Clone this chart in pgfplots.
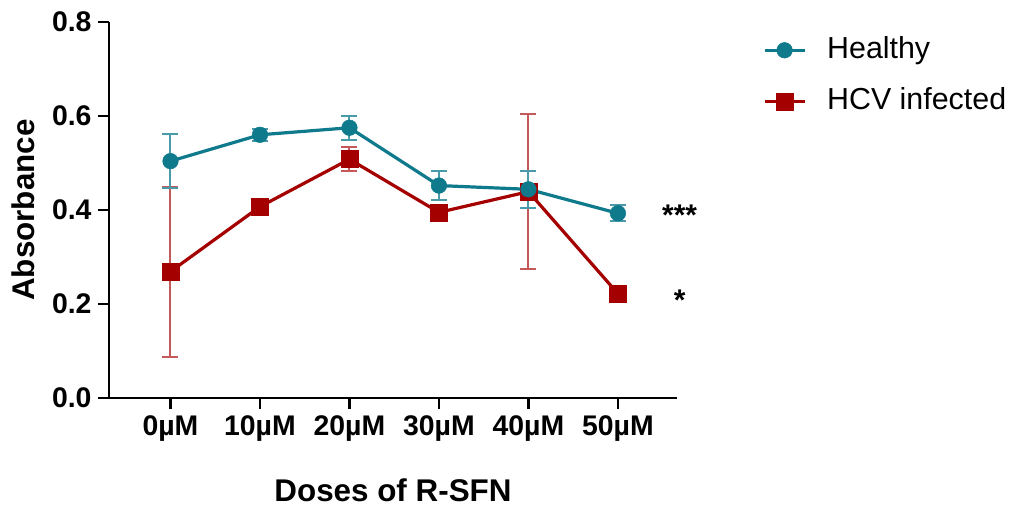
\documentclass[border=0pt]{standalone}
\usepackage{fontspec}
\setmainfont{Liberation Sans}
\usepackage{pgfplots}
\usepackage{pgfplotstable}
\pgfplotsset{compat=1.18}
\definecolor{tealc}{RGB}{14,122,140}
\definecolor{redc}{RGB}{165,0,0}
\pgfplotstableread{
x y e
0 0.504 0.058
1 0.560 0.013
2 0.575 0.025
3 0.452 0.030
4 0.444 0.040
5 0.393 0.017
}\healthy
\pgfplotstableread{
x y e
0 0.269 0.181
1 0.407 0.005
2 0.508 0.025
3 0.395 0.005
4 0.439 0.165
5 0.222 0.005
}\hcv
\begin{document}
\begin{tikzpicture}
\path[use as bounding box] (-109bp,-108bp) rectangle (904bp,398bp);
\begin{axis}[
  scale only axis, width=568bp, height=376bp,
  xmin=-0.687, xmax=5.66, ymin=0, ymax=0.8,
  clip=false,
  axis x line=bottom, axis y line=left,
  axis line style={line width=2.6bp,-,black},
  tick style={line width=2.6bp,black},
  major tick length=11bp, tick align=outside,
  xtick={0,1,2,3,4,5},
  xticklabels={0µM,10µM,20µM,30µM,40µM,50µM},
  ytick={0,0.2,0.4,0.6,0.8},
  yticklabels={0.0,0.2,0.4,0.6,0.8},
  ticklabel style={font=\bfseries\fontsize{28.5}{28.5}\selectfont},
  xticklabel style={yshift=-3bp},
  yticklabel style={xshift=-3bp},
  xlabel={Doses of R-SFN},
  ylabel={Absorbance},
  label style={font=\bfseries\fontsize{31.5}{31.5}\selectfont},
  xlabel style={at={(axis description cs:0.5,0)}, anchor=base, yshift=-103bp},
  ylabel style={at={(axis description cs:-0.1514,0.5)}, anchor=center, rotate=0},
  reverse legend,
  legend style={draw=none, fill=none, at={(1.151,0.857)}, anchor=west,
    inner sep=0pt, font=\fontsize{30.5}{30.5}\selectfont,
    nodes={inner sep=0pt, anchor=base west, text height=22bp, text depth=6bp},
    row sep=23bp, column sep=21bp},
  legend image code/.code={
    \draw[#1, mark repeat=2, mark phase=2] plot coordinates {(0bp,8bp)(20bp,8bp)(40bp,8bp)};
  },
]
\addplot[color=redc, line width=3.2bp, mark=square*, mark size=8.5bp,
  mark options={solid, fill=redc, draw=redc, line width=0.5bp},
  error bars/.cd, y dir=both, y explicit,
  error bar style={line width=2bp, color=redc!65!white},
  error mark options={rotate=90, mark size=8bp, line width=2bp, color=redc!65!white}]
  table[x=x, y=y, y error=e] {\hcv};
\addlegendentry{HCV infected}
\addplot[color=tealc, line width=3.2bp, mark=*, mark size=7.8bp,
  mark options={solid, fill=tealc, draw=tealc, line width=0.5bp},
  error bars/.cd, y dir=both, y explicit,
  error bar style={line width=2bp, color=tealc!75!white},
  error mark options={rotate=90, mark size=8bp, line width=2bp, color=tealc!75!white}]
  table[x=x, y=y, y error=e] {\healthy};
\addlegendentry{Healthy}
\node[font=\bfseries\fontsize{30}{30}\selectfont, anchor=base] at (axis cs:5.69,0.366) {***};
\node[font=\bfseries\fontsize{30}{30}\selectfont, anchor=base] at (axis cs:5.69,0.186) {*};
\end{axis}
\end{tikzpicture}
\end{document}
